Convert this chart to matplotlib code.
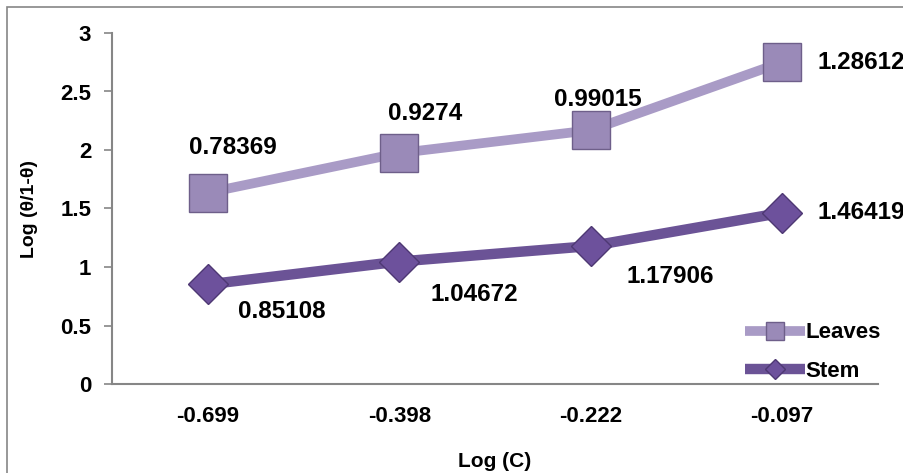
import numpy as np
import matplotlib
matplotlib.use('Agg')
import matplotlib.pyplot as plt

plt.rcParams['font.family'] = ['Liberation Sans', 'DejaVu Sans']

log_c = ['-0.699', '-0.398', '-0.222', '-0.097']
stem = np.array([0.85108, 1.04672, 1.17906, 1.46419])
leaves = np.array([0.78369, 0.9274, 0.99015, 1.28612])
y_ticks = [0, 0.5, 1, 1.5, 2, 2.5, 3]

# stacked line chart: leaves sit on top of stem
leaves_top = stem + leaves

x = np.arange(len(log_c))

fig = plt.figure(figsize=(9.04, 4.73), dpi=100)
ax = fig.add_axes([112/904, 1-384/473, (878-112)/904, (384-33)/473])

ax.plot(x, leaves_top, color='#A99BC6', lw=7, marker='s', ms=27,
        mfc='#9A8AB8', mec='#6E5F8A', mew=1, label='Leaves',
        solid_capstyle='butt', zorder=3)
ax.plot(x, stem, color='#6B5396', lw=7.5, marker='D', ms=20,
        mfc='#6D519C', mec='#4E3873', mew=1, label='Stem',
        solid_capstyle='butt', zorder=3)

lab_font = dict(fontsize=17.5, fontweight='bold', color='black')

leaves_off = [(25, 45, 'center'), (26, 40, 'center'), (7, 31, 'center'), (35, 0, 'left')]
for i, (dx, dy, ha) in enumerate(leaves_off):
    ax.annotate(f'{leaves[i]:g}', (x[i], leaves_top[i]), xytext=(dx, dy),
                textcoords='offset pixels', ha=ha, va='center', **lab_font)

stem_off = [(74, -27, 'center'), (75, -33, 'center'), (80, -30, 'center'), (35, 0, 'left')]
for i, (dx, dy, ha) in enumerate(stem_off):
    ax.annotate(f'{stem[i]:g}', (x[i], stem[i]), xytext=(dx, dy),
                textcoords='offset pixels', ha=ha, va='center', **lab_font)

ax.set_xlim(-0.5, 3.5)
ax.set_ylim(0, 3)
ax.set_xticks(x)
ax.set_xticklabels(log_c)
ax.set_yticks(y_ticks)
ax.set_yticklabels([f'{v:g}' for v in y_ticks])
ax.tick_params(axis='x', length=0, pad=16, labelsize=16)
ax.tick_params(axis='y', length=6, color='#868686', width=1.2, pad=9, labelsize=16)
for t in ax.get_xticklabels() + ax.get_yticklabels():
    t.set_fontweight('bold')

for s in ['top', 'right']:
    ax.spines[s].set_visible(False)
for s in ['left', 'bottom']:
    ax.spines[s].set_color('#868686')
    ax.spines[s].set_linewidth(1.5)

ax.set_xlabel('Log (C)', fontsize=15, fontweight='bold', labelpad=18)
ax.set_ylabel('Log (θ/1-θ)', fontsize=14, fontweight='bold', labelpad=16)

leg = ax.legend(loc='lower right', bbox_to_anchor=(1.015, -0.02), frameon=False,
                prop={'weight': 'bold', 'size': 16},
                handlelength=2.7, handletextpad=0.0, markerscale=0.5,
                labelspacing=0.8, borderaxespad=0.0)

# chart area border
fig.patches.append(plt.Rectangle((7/904, -0.05), 1.2, 1 - 7/473 + 0.05,
                                 transform=fig.transFigure, fill=False,
                                 edgecolor='#868686', lw=1.2))

fig.savefig('out.png', dpi=100)
